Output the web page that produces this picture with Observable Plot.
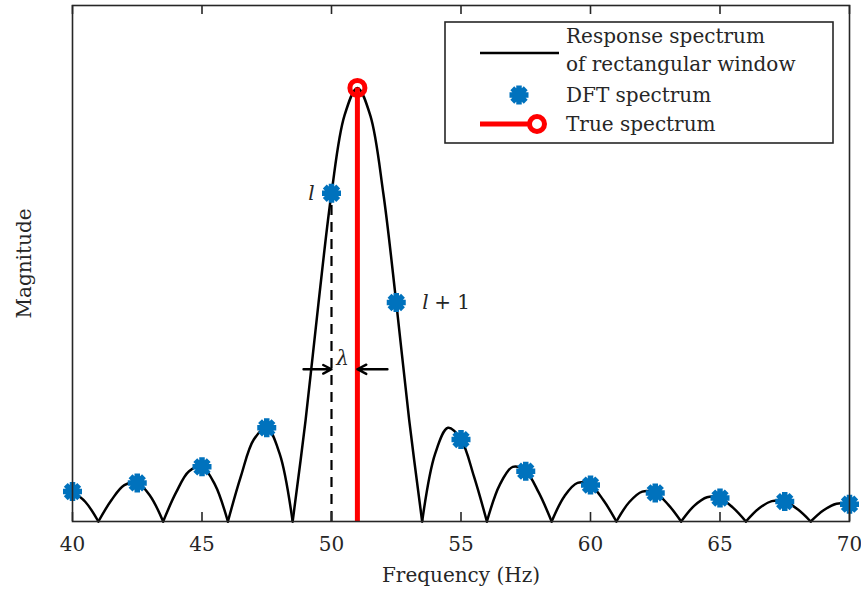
<!DOCTYPE html>
<html>
<head>
<meta charset="utf-8">
<script src="https://cdn.jsdelivr.net/npm/d3@7"></script>
<script src="https://cdn.jsdelivr.net/npm/@observablehq/plot@0.6"></script>
<style>
  html, body { margin: 0; padding: 0; background: #fff; }
  #chart { width: 861px; height: 589px; }
</style>
</head>
<body>
<div id="chart"></div>
<script>
// ---------- data ----------
const xTicks = [40, 45, 50, 55, 60, 65, 70];

const curveFreq = [40, 40.5, 41, 41.5, 42, 42.5, 43, 43.5, 44, 44.5, 45, 45.5, 46, 46.5, 47, 47.5, 48, 48.5,
  49, 49.5, 50, 50.5, 51, 51.5, 52, 52.5, 53, 53.5, 54, 54.5, 55, 55.5, 56, 56.5, 57, 57.5, 58, 58.5,
  59, 59.5, 60, 60.5, 61, 61.5, 62, 62.5, 63, 63.5, 64, 64.5, 65, 65.5, 66, 66.5, 67, 67.5, 68, 68.5,
  69, 69.5, 70];
const curveMag = [0.069, 0.045, 0, 0.049, 0.084, 0.089, 0.059, 0, 0.067, 0.116, 0.126, 0.085, 0, 0.104, 0.189, 0.216, 0.156, 0,
  0.234, 0.505, 0.757, 0.936, 1.0, 0.936, 0.757, 0.505, 0.234, 0, 0.156, 0.216, 0.189, 0.104, 0, 0.085, 0.126, 0.116, 0.067, 0,
  0.059, 0.089, 0.084, 0.049, 0, 0.045, 0.069, 0.066, 0.039, 0, 0.036, 0.056, 0.054, 0.032, 0, 0.030, 0.047, 0.046, 0.028, 0,
  0.026, 0.041, 0.040];

const dftFreq = [40, 42.5, 45, 47.5, 50, 52.5, 55, 57.5, 60, 62.5, 65, 67.5, 70];
const dftMag  = [0.069, 0.089, 0.126, 0.216, 0.757, 0.505, 0.189, 0.116, 0.084, 0.066, 0.054, 0.046, 0.040];

const trueFreq = [51];
const trueMag  = [1.0];

const arrowStart = [48.92, 52.16];
const arrowEnd   = [50, 51];
const arrowLevel = 0.351;

const legendLabels = ["Response spectrum", "of rectangular window", "DFT spectrum", "True spectrum"];
const xLabel = "Frequency (Hz)";
const yLabel = "Magnitude";

// ---------- build tables ----------
const curveRows = [];
let lobe = 0;
curveFreq.forEach((f, i) => {
  const m = curveMag[i];
  curveRows.push({f, m, lobe});
  if (m === 0 && i > 0 && i < curveFreq.length - 1) {
    lobe++;
    curveRows.push({f, m, lobe});
  }
});
const dftRows = dftFreq.map((f, i) => ({f, m: dftMag[i]}));
const trueRows = trueFreq.map((f, i) => ({f, m: trueMag[i]}));
const arrowRows = arrowStart.map((x1, i) => ({x1, x2: arrowEnd[i], y: arrowLevel}));

const asterisk8 = {
  draw(ctx, size) {
    const r = Math.sqrt(size / Math.PI);
    for (let i = 0; i < 4; i++) {
      const a = i * Math.PI / 4;
      ctx.moveTo(r * Math.cos(a), r * Math.sin(a));
      ctx.lineTo(-r * Math.cos(a), -r * Math.sin(a));
    }
  }
};

const W = 861, H = 589;
const mT = 5, mB = 68, mL = 72, mR = 12;
const frameH = H - mT - mB;
const ink = "#262626";
const blue = "#0072BD";

const chart = Plot.plot({
  width: W, height: H,
  marginTop: mT, marginBottom: mB, marginLeft: mL, marginRight: mR,
  style: {fontFamily: "'DejaVu Serif', serif", fontSize: "20px", color: ink, background: "white"},
  x: {domain: [40, 70], axis: null},
  y: {domain: [0, 1.19], axis: null},
  marks: [
    Plot.line(curveRows, {x: "f", y: "m", z: "lobe", curve: "catmull-rom", stroke: "black", strokeWidth: 2.5}),
    Plot.ruleX([dftRows[4]], {x: "f", y1: 0, y2: "m", stroke: "black", strokeWidth: 2.2, strokeDasharray: "10,7"}),
    Plot.ruleX(trueRows, {x: "f", y1: 0, y2: "m", stroke: "#FF0000", strokeWidth: 5}),
    Plot.arrow(arrowRows, {x1: "x1", x2: "x2", y1: "y", y2: "y", stroke: "black", strokeWidth: 2.4, headLength: 13, headAngle: 55}),
    Plot.dot(dftRows, {x: "f", y: "m", symbol: asterisk8, r: 9.5, fill: "none", stroke: blue, strokeWidth: 5.5}),
    Plot.dot(trueRows, {x: "f", y: "m", r: 7.5, fill: "none", stroke: "#FF0000", strokeWidth: 5}),
    Plot.text([dftRows[4]], {x: "f", y: "m", text: () => "l", dx: -20, fontStyle: "italic", fill: ink}),
    Plot.text([dftRows[5]], {x: "f", y: "m", text: () => "l", dx: 26, textAnchor: "start", fontStyle: "italic", fill: ink}),
    Plot.text([dftRows[5]], {x: "f", y: "m", text: () => "+ 1", dx: 38, textAnchor: "start", fill: ink}),
    Plot.text([arrowRows[0]], {x: "x2", y: "y", text: () => "λ", dx: 11, dy: -11, fontStyle: "italic", fill: ink}),
    Plot.frame({stroke: ink, strokeWidth: 1.6}),
    Plot.tickX(xTicks, {x: d => d, insetTop: frameH - 9, stroke: ink, strokeWidth: 1.6}),
    Plot.tickX(xTicks, {x: d => d, insetBottom: frameH - 9, stroke: ink, strokeWidth: 1.6}),
    Plot.axisX(xTicks, {anchor: "bottom", tickSize: 0, tickPadding: 15, label: null, fontSize: 20, fill: ink}),
    Plot.text([xLabel], {frameAnchor: "bottom", dy: 60, lineAnchor: "bottom", text: d => d, fontSize: 20, fill: ink}),
    Plot.text([yLabel], {frameAnchor: "left", dx: -48, rotate: -90, textAnchor: "middle", text: d => d, fontSize: 20, fill: ink})
  ]
});

document.getElementById("chart").appendChild(chart);

// ---------- legend drawn inside the axes ----------
const svg = d3.select(chart);
const lg = svg.append("g").attr("font-family", "'DejaVu Serif', serif").attr("font-size", 20)
  .attr("fill", ink).attr("text-anchor", "start");
lg.append("rect").attr("x", 445).attr("y", 22).attr("width", 388).attr("height", 121)
  .attr("fill", "white").attr("stroke", ink).attr("stroke-width", 1.6);
lg.append("line").attr("x1", 480).attr("x2", 559).attr("y1", 53).attr("y2", 53)
  .attr("stroke", "black").attr("stroke-width", 2.5);
lg.append("path").attr("d", d3.symbol(asterisk8, Math.PI * 9.5 * 9.5)())
  .attr("transform", "translate(519,95)").attr("fill", "none").attr("stroke", blue).attr("stroke-width", 5.5);
lg.append("line").attr("x1", 480).attr("x2", 530).attr("y1", 124).attr("y2", 124)
  .attr("stroke", "#FF0000").attr("stroke-width", 5);
lg.append("circle").attr("cx", 537).attr("cy", 124).attr("r", 7.5)
  .attr("fill", "white").attr("stroke", "#FF0000").attr("stroke-width", 5);
const baselines = [43, 71, 102, 131];
legendLabels.forEach((t, i) => {
  lg.append("text").attr("x", 566).attr("y", baselines[i]).attr("text-anchor", "start").text(t);
});
</script>
</body>
</html>
